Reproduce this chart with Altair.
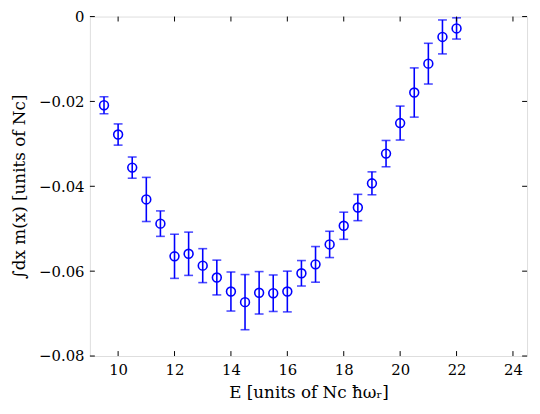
import altair as alt
import pandas as pd

energy = [9.5, 10, 10.5, 11, 11.5, 12, 12.5, 13, 13.5, 14, 14.5, 15, 15.5, 16,
          16.5, 17, 17.5, 18, 18.5, 19, 19.5, 20, 20.5, 21, 21.5, 22]
magnet = [-0.0209, -0.0278, -0.0356, -0.0431, -0.0488, -0.0565, -0.0559, -0.0587,
          -0.0615, -0.0648, -0.0673, -0.0651, -0.0652, -0.0648, -0.0605, -0.0584,
          -0.0537, -0.0493, -0.0450, -0.0393, -0.0323, -0.0251, -0.0179, -0.0111,
          -0.0048, -0.0028]
error = [0.0020, 0.0025, 0.0025, 0.0052, 0.0030, 0.0052, 0.0051, 0.0040, 0.0041,
         0.0046, 0.0065, 0.0050, 0.0043, 0.0048, 0.0030, 0.0042, 0.0031, 0.0032,
         0.0031, 0.0027, 0.0031, 0.0040, 0.0058, 0.0048, 0.0040, 0.0025]
x_ticks = [10, 12, 14, 16, 18, 20, 22, 24]
y_ticks = [0, -0.02, -0.04, -0.06, -0.08]

W, H = 443, 344
FONT = "DejaVu Serif"
BLUE = "#0000ff"

df = pd.DataFrame({"E": energy, "m": magnet, "err": error})
df["lo"] = df["m"] - df["err"]
df["hi"] = df["m"] + df["err"]
xt = pd.DataFrame({"t": x_ticks})
yt = pd.DataFrame({"t": y_ticks})

xs = alt.Scale(domain=[9, 24.5], nice=False, zero=False)
ys = alt.Scale(domain=[-0.08, 0], nice=False, zero=False)

xaxis = alt.Axis(values=x_ticks, ticks=False, domain=False, grid=False,
                 labelFont=FONT, labelFontSize=15, labelColor="black", labelPadding=7,
                 title="E [units of Nc ħωᵣ]", titleFont=FONT, titleFontSize=17,
                 titleFontWeight="normal", titleColor="black", titlePadding=7)
yaxis = alt.Axis(values=y_ticks, ticks=False, domain=False, grid=False,
                 labelFont=FONT, labelFontSize=15, labelColor="black", labelPadding=6,
                 labelExpr="datum.value == 0 ? '0' : format(datum.value, '.2f')",
                 title="∫dx m(x) [units of Nc]", titleFont=FONT, titleFontSize=17,
                 titleFontWeight="normal", titleColor="black", titlePadding=10)

base = alt.Chart(df)

bars = base.mark_rule(color=BLUE, strokeWidth=1.6).encode(
    x=alt.X("E:Q", scale=xs, axis=xaxis),
    y=alt.Y("lo:Q", scale=ys, axis=yaxis),
    y2="hi:Q",
)
cap_lo = base.mark_tick(color=BLUE, orient="horizontal", size=9, thickness=1.6).encode(
    x=alt.X("E:Q", scale=xs), y=alt.Y("lo:Q", scale=ys))
cap_hi = base.mark_tick(color=BLUE, orient="horizontal", size=9, thickness=1.6).encode(
    x=alt.X("E:Q", scale=xs), y=alt.Y("hi:Q", scale=ys))
pts = base.mark_point(shape="circle", filled=False, color=BLUE, size=80,
                      strokeWidth=1.6, opacity=1).encode(
    x=alt.X("E:Q", scale=xs), y=alt.Y("m:Q", scale=ys))

tb = alt.Chart(xt).mark_rule(color="black", strokeWidth=1).encode(
    x=alt.X("t:Q", scale=xs), y=alt.value(H), y2=alt.value(H - 5))
tt = alt.Chart(xt).mark_rule(color="black", strokeWidth=1).encode(
    x=alt.X("t:Q", scale=xs), y=alt.value(0), y2=alt.value(5))
tl = alt.Chart(yt).mark_rule(color="black", strokeWidth=1).encode(
    y=alt.Y("t:Q", scale=ys), x=alt.value(0), x2=alt.value(5))
tr = alt.Chart(yt).mark_rule(color="black", strokeWidth=1).encode(
    y=alt.Y("t:Q", scale=ys), x=alt.value(W - 5), x2=alt.value(W))

chart = alt.layer(bars, cap_lo, cap_hi, pts, tb, tt, tl, tr).properties(
    width=W, height=H,
    autosize=alt.AutoSizeParams(type="none"),
    padding={"left": 83, "top": 6, "right": 5, "bottom": 50},
).configure_view(stroke="black", strokeWidth=1.2).configure(background="white")

chart.save("out.html", embed_options={"renderer": "svg", "actions": False})
